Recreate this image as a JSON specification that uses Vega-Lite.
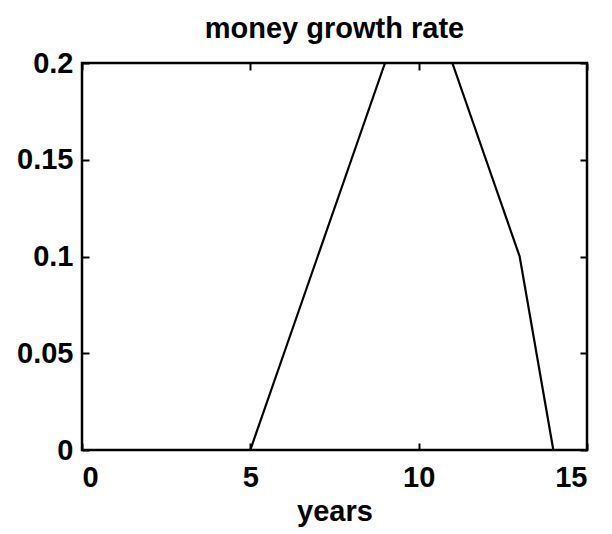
{
  "$schema": "https://vega.github.io/schema/vega-lite/v6.json",
  "width": 505,
  "height": 387,
  "autosize": "none",
  "padding": {"left": 82, "top": 63, "right": 25, "bottom": 84},
  "background": "white",
  "config": {
    "view": {"stroke": "black", "strokeWidth": 2.5},
    "font": "Liberation Sans",
    "axis": {
      "grid": false,
      "domain": false,
      "tickColor": "black",
      "tickWidth": 2,
      "tickSize": -7,
      "labelFont": "Liberation Sans",
      "labelFontSize": 29,
      "labelFontWeight": "bold",
      "labelColor": "black",
      "titleFont": "Liberation Sans",
      "titleFontSize": 29,
      "titleFontWeight": "bold",
      "titleColor": "black"
    }
  },
  "title": {"text": "money growth rate", "font": "Liberation Sans", "fontSize": 29, "fontWeight": "bold", "color": "black", "anchor": "middle", "offset": 5},
  "data": {"values": [
    {"year": 0, "rate": 0}, {"year": 1, "rate": 0}, {"year": 2, "rate": 0}, {"year": 3, "rate": 0},
    {"year": 4, "rate": 0}, {"year": 5, "rate": 0}, {"year": 6, "rate": 0.05}, {"year": 7, "rate": 0.1},
    {"year": 8, "rate": 0.15}, {"year": 9, "rate": 0.2}, {"year": 10, "rate": 0.2}, {"year": 11, "rate": 0.2},
    {"year": 12, "rate": 0.15}, {"year": 13, "rate": 0.1}, {"year": 14, "rate": 0}, {"year": 15, "rate": 0}
  ]},
  "layer": [
    {
      "mark": {"type": "line", "color": "black", "strokeWidth": 2.2, "clip": true},
      "encoding": {
        "x": {"field": "year", "type": "quantitative", "scale": {"domain": [0, 15], "nice": false, "zero": false},
              "axis": {"orient": "bottom", "values": [0, 5, 10, 15], "title": "years", "labelPadding": 20, "titlePadding": 5}},
        "y": {"field": "rate", "type": "quantitative", "scale": {"domain": [0, 0.2], "nice": false},
              "axis": {"orient": "left", "values": [0, 0.05, 0.1, 0.15, 0.2], "format": "~g", "title": null, "labelPadding": 16}}
      }
    },
    {
      "mark": {"type": "line", "opacity": 0},
      "encoding": {
        "x": {"field": "year", "type": "quantitative", "scale": {"domain": [0, 15], "nice": false, "zero": false},
              "axis": {"orient": "top", "values": [0, 5, 10, 15], "labels": false, "title": null}},
        "y": {"field": "rate", "type": "quantitative", "scale": {"domain": [0, 0.2], "nice": false},
              "axis": {"orient": "right", "values": [0, 0.05, 0.1, 0.15, 0.2], "labels": false, "title": null}}
      }
    }
  ],
  "resolve": {"axis": {"x": "independent", "y": "independent"}}
}
